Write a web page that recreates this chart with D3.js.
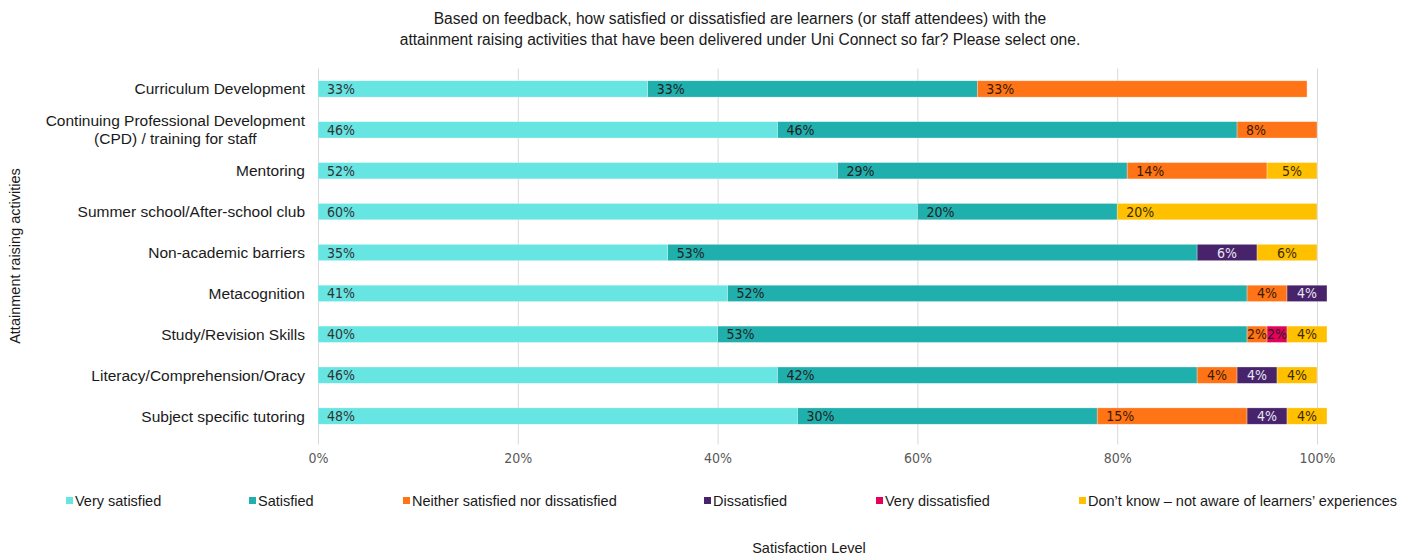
<!DOCTYPE html>
<html>
<head>
<meta charset="utf-8">
<script src="https://cdn.jsdelivr.net/npm/d3@7"></script>
<style>
  html, body { margin: 0; padding: 0; background: #fff; }
  svg { display: block; }
  .sans { font-family: "Liberation Sans", Arial, sans-serif; }
  .din { font-family: "DejaVu Sans Condensed", "DejaVu Sans", sans-serif; font-stretch: condensed; }
</style>
</head>
<body>
<svg id="chart" width="1408" height="557"></svg>
<script>
// Activities (top to bottom)
const categories = [
  "Curriculum Development",
  "Continuing Professional Development\n(CPD) / training for staff",
  "Mentoring",
  "Summer school/After-school club",
  "Non-academic barriers",
  "Metacognition",
  "Study/Revision Skills",
  "Literacy/Comprehension/Oracy",
  "Subject specific tutoring"
];

const seriesNames = [
  "Very satisfied",
  "Satisfied",
  "Neither satisfied nor dissatisfied",
  "Dissatisfied",
  "Very dissatisfied",
  "Don\u2019t know \u2013 not aware of learners\u2019 experiences"
];

// Percentages per series, one value per activity
const verySatisfied    = [33, 46, 52, 60, 35, 41, 40, 46, 48];
const satisfied        = [33, 46, 29, 20, 53, 52, 53, 42, 30];
const neither          = [33,  8, 14,  0,  0,  4,  2,  4, 15];
const dissatisfied     = [ 0,  0,  0,  0,  6,  4,  0,  4,  4];
const veryDissatisfied = [ 0,  0,  0,  0,  0,  0,  2,  0,  0];
const dontKnow         = [ 0,  0,  5, 20,  6,  0,  4,  4,  4];

const xTicks = [0, 20, 40, 60, 80, 100];

const colors = ["#66e5e2", "#1fafad", "#ff7417", "#47236b", "#e6005c", "#ffc000"];
const labelColors = ["#333", "#222", "#3a1a00", "#e6e6f0", "#222", "#3a2a00"];

const titleLines = [
  "Based on feedback, how satisfied or dissatisfied are learners (or staff attendees) with the",
  "attainment raising activities that have been delivered under Uni Connect so far? Please select one."
];

const seriesValues = [verySatisfied, satisfied, neither, dissatisfied, veryDissatisfied, dontKnow];

const svg = d3.select("#chart");
const margin = { left: 318, right: 91, top: 68.5, bottom: 120.5 };
const W = 1408, H = 557;

const x = d3.scaleLinear().domain([0, 100]).range([margin.left, W - margin.right]);
const y = d3.scaleBand().domain(categories).range([margin.top, H - margin.bottom]).paddingInner(0.6).paddingOuter(0.3);

// Title
svg.append("g").selectAll("text").data(titleLines).join("text")
  .attr("class", "sans")
  .attr("x", 740).attr("y", (d, i) => 24 + i * 21)
  .attr("text-anchor", "middle")
  .attr("font-size", 15.6).attr("fill", "#1a1a1a")
  .text(d => d);

// Gridlines + tick labels
const xAxis = d3.axisBottom(x).tickValues(xTicks).tickFormat(d => d + "%")
  .tickSize(-(H - margin.bottom - margin.top + 8)).tickPadding(9);
const gx = svg.append("g").attr("transform", `translate(0,${H - margin.bottom + 8})`).call(xAxis);
gx.select(".domain").remove();
gx.selectAll(".tick line").attr("stroke", "#d9d9d9").attr("stroke-width", 1);
gx.selectAll(".tick text").attr("class", "din").attr("font-size", 14).attr("fill", "#595959");

// Stacked bars
const rows = categories.map((c, i) => {
  let acc = 0;
  return seriesValues.map((vals, s) => {
    const seg = { cat: c, s, v: vals[i], x0: acc, x1: acc + vals[i] };
    acc += vals[i];
    return seg;
  }).filter(d => d.v > 0);
});
const segs = rows.flat();

svg.append("g").selectAll("rect").data(segs).join("rect")
  .attr("x", d => x(d.x0))
  .attr("y", d => y(d.cat))
  .attr("width", d => x(d.x1) - x(d.x0))
  .attr("height", y.bandwidth())
  .attr("fill", d => colors[d.s])
  .attr("stroke", "#ffffff").attr("stroke-opacity", 0.5).attr("stroke-width", 0.6);

// Value labels inside each segment
const segW = d => x(d.x1) - x(d.x0);
svg.append("g").selectAll("text").data(segs).join("text")
  .attr("class", "din")
  .attr("x", d => segW(d) < 65 ? (x(d.x0) + x(d.x1)) / 2 : x(d.x0) + 9)
  .attr("text-anchor", d => segW(d) < 65 ? "middle" : "start")
  .attr("y", d => y(d.cat) + y.bandwidth() / 2 + 5)
  .attr("font-size", 14)
  .attr("fill", d => labelColors[d.s])
  .text(d => d.v + "%");

// Category labels (multi-line labels are centred as a block, right edge at the axis gap)
const catG = svg.append("g");
categories.forEach(c => {
  const lines = c.split("\n");
  const cy = y(c) + y.bandwidth() / 2;
  const texts = lines.map((ln, k) => catG.append("text").attr("class", "sans")
    .attr("font-size", 15.5).attr("fill", "#1a1a1a")
    .attr("y", cy + 5.5 + (k - (lines.length - 1) / 2) * 18)
    .text(ln));
  const widest = d3.max(texts, t => t.node().getComputedTextLength());
  const centre = 305 - widest / 2;
  texts.forEach(t => t.attr("x", centre).attr("text-anchor", "middle"));
});

// Y axis title
svg.append("text").attr("class", "sans")
  .attr("transform", "translate(20,256) rotate(-90)")
  .attr("text-anchor", "middle").attr("font-size", 14.5).attr("fill", "#1a1a1a")
  .text("Attainment raising activities");

// X axis title
svg.append("text").attr("class", "sans")
  .attr("x", 809).attr("y", 553).attr("text-anchor", "middle")
  .attr("font-size", 14.5).attr("fill", "#1a1a1a")
  .text("Satisfaction Level");

// Legend
const legendX = [66, 249, 403, 704, 876, 1079];
const lg = svg.append("g").selectAll("g").data(seriesNames).join("g")
  .attr("transform", (d, i) => `translate(${legendX[i]},501)`);
lg.append("rect").attr("x", 0).attr("y", -4).attr("width", 7).attr("height", 7)
  .attr("fill", (d, i) => colors[i]);
lg.append("text").attr("class", "sans").attr("x", 9).attr("y", 5)
  .attr("font-size", 14.5).attr("fill", "#1a1a1a").text(d => d);
</script>
</body>
</html>
